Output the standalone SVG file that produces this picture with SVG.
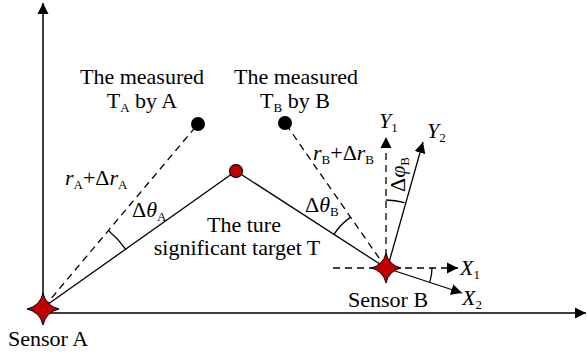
<svg xmlns="http://www.w3.org/2000/svg" width="587" height="355" viewBox="0 0 587 355">
<style>
text{font-family:'Liberation Serif','Times New Roman',serif;fill:#000}
.t{font-size:22px}
.m{font-size:22px}
.i{font-style:italic}
.s{font-size:13px;font-style:normal}
.ln{stroke:#000;stroke-width:1.3;fill:none}
.ax{stroke:#000;stroke-width:1.5;fill:none}
.d{stroke-dasharray:7,5}
.star{fill:#c00000;stroke:#000;stroke-width:1}
</style>
<defs>
<marker id="ah" markerUnits="userSpaceOnUse" markerWidth="12" markerHeight="12" refX="11" refY="6" orient="auto">
<path d="M0,0.5 L11,6 L0,11.5 Z" fill="#000"/>
</marker>
<path id="starShape" d="M0,-16 Q3,-3 16,0 Q3,3 0,16 Q-3,3 -16,0 Q-3,-3 0,-16 Z"/>
</defs>

<g id="connectors">
<line class="ax" x1="43" y1="313" x2="43" y2="3" marker-end="url(#ah)"/>
<line class="ax" x1="43" y1="313" x2="586" y2="313" marker-end="url(#ah)"/>
<line class="ln" x1="44" y1="307" x2="236" y2="171"/>
<line class="ln" x1="236" y1="171" x2="386" y2="268"/>
<line class="ln d" x1="44" y1="307" x2="198" y2="124"/>
<line class="ln d" x1="386" y1="268" x2="285" y2="123"/>
<line class="ln d" x1="386" y1="268" x2="386" y2="137" marker-end="url(#ah)"/>
<line class="ln" x1="388" y1="266" x2="423" y2="142" marker-end="url(#ah)"/>
<line class="ln d" x1="333" y1="268" x2="458" y2="268" marker-end="url(#ah)"/>
<line class="ln" x1="386" y1="268" x2="462" y2="293" marker-end="url(#ah)"/>
<path class="ln" d="M108.4,230.5 A100,100 0 0 1 125.6,249.2"/>
<path class="ln" d="M334,234.3 A62,62 0 0 1 350.6,217.1"/>
<path class="ln" d="M386,200 A68,68 0 0 1 404.5,202.6"/>
<path class="ln" d="M432,268 A46,46 0 0 1 429.7,282.4"/>
</g>

<g id="sensorA">
<use href="#starShape" class="star" transform="translate(43,309)"/>
<text class="t" x="8" y="346">Sensor A</text>
</g>

<g id="sensorB">
<use href="#starShape" class="star" transform="translate(386,268) scale(0.94)"/>
<text class="t" x="348" y="307">Sensor B</text>
</g>

<g id="targetT">
<circle cx="236" cy="171" r="6.5" fill="#c00000" stroke="#000" stroke-width="1.2"/>
<text class="t" x="244" y="232" text-anchor="middle">The ture</text>
<text class="t" x="237" y="255" text-anchor="middle">significant target T</text>
</g>

<g id="measuredA">
<circle cx="198" cy="124" r="7" fill="#000"/>
<text class="t" x="142" y="84" text-anchor="middle">The measured</text>
<text class="t" x="142" y="108" text-anchor="middle">T<tspan class="s" dy="4">A</tspan><tspan dy="-4"> by A</tspan></text>
</g>

<g id="measuredB">
<circle cx="285" cy="123" r="7" fill="#000"/>
<text class="t" x="296" y="84" text-anchor="middle">The measured</text>
<text class="t" x="295" y="108" text-anchor="middle">T<tspan class="s" dy="4">B</tspan><tspan dy="-4"> by B</tspan></text>
</g>

<g id="labels">
<text class="m" x="65" y="185"><tspan class="i">r</tspan><tspan class="s" dy="4">A</tspan><tspan dy="-4">+Δ</tspan><tspan class="i">r</tspan><tspan class="s" dy="4">A</tspan></text>
<text class="m" x="132" y="217">Δ<tspan class="i">θ</tspan><tspan class="s" dy="4">A</tspan></text>
<text class="m" x="313" y="160"><tspan class="i">r</tspan><tspan class="s" dy="4">B</tspan><tspan dy="-4">+Δ</tspan><tspan class="i">r</tspan><tspan class="s" dy="4">B</tspan></text>
<text class="m" x="305" y="212">Δ<tspan class="i">θ</tspan><tspan class="s" dy="4">B</tspan></text>
<text class="m" transform="translate(405,192) rotate(-90)">Δ<tspan class="i">φ</tspan><tspan class="s" dy="4">B</tspan></text>
<text class="m" x="379" y="128"><tspan class="i">Y</tspan><tspan class="s" dy="4">1</tspan></text>
<text class="m" x="427" y="138"><tspan class="i">Y</tspan><tspan class="s" dy="4">2</tspan></text>
<text class="m" x="460" y="275"><tspan class="i">X</tspan><tspan class="s" dy="4">1</tspan></text>
<text class="m" x="462" y="305"><tspan class="i">X</tspan><tspan class="s" dy="4">2</tspan></text>
</g>
</svg>
